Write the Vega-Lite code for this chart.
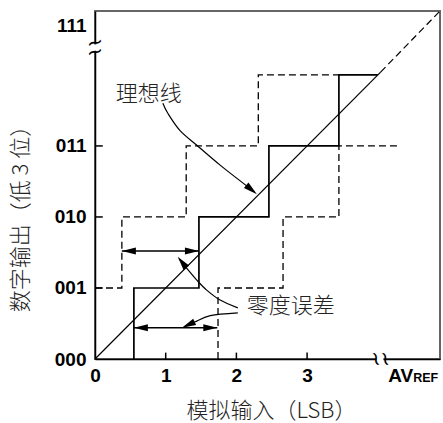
{
  "$schema": "https://vega.github.io/schema/vega-lite/v6.json",
  "width": 345,
  "height": 348,
  "autosize": "none",
  "padding": {"left": 95, "top": 11, "right": 3, "bottom": 64},
  "config": {
    "view": {"stroke": "#666", "strokeWidth": 2},
    "background": "white"
  },
  "datasets": {
    "actual": [
      {"order": 1, "x": 0.55, "y": 0},
      {"order": 2, "x": 0.55, "y": 1},
      {"order": 3, "x": 1.47, "y": 1},
      {"order": 4, "x": 1.47, "y": 2},
      {"order": 5, "x": 2.46, "y": 2},
      {"order": 6, "x": 2.46, "y": 3},
      {"order": 7, "x": 3.45, "y": 3},
      {"order": 8, "x": 3.45, "y": 4},
      {"order": 9, "x": 4.0, "y": 4}
    ],
    "bounds": [
      {"series": "left", "order": 1, "x": 0, "y": 1},
      {"series": "left", "order": 2, "x": 0.38, "y": 1},
      {"series": "left", "order": 3, "x": 0.38, "y": 2},
      {"series": "left", "order": 4, "x": 1.29, "y": 2},
      {"series": "left", "order": 5, "x": 1.29, "y": 3},
      {"series": "left", "order": 6, "x": 2.31, "y": 3},
      {"series": "left", "order": 7, "x": 2.31, "y": 4},
      {"series": "left", "order": 8, "x": 3.45, "y": 4},
      {"series": "right", "order": 1, "x": 1.74, "y": 0},
      {"series": "right", "order": 2, "x": 1.74, "y": 1},
      {"series": "right", "order": 3, "x": 2.66, "y": 1},
      {"series": "right", "order": 4, "x": 2.66, "y": 2},
      {"series": "right", "order": 5, "x": 3.45, "y": 2},
      {"series": "right", "order": 6, "x": 3.45, "y": 3},
      {"series": "right", "order": 7, "x": 4.29, "y": 3}
    ],
    "idealSolid": [
      {"x": 0, "y": 0, "x2": 4.04, "y2": 4.04}
    ],
    "idealDashed": [
      {"x": 4.04, "y": 4.04, "x2": 4.88, "y2": 4.9}
    ],
    "shafts": [
      {"x": 0.38, "y": 1.52, "x2": 1.47, "y2": 1.52},
      {"x": 0.55, "y": 0.44, "x2": 1.73, "y2": 0.44}
    ],
    "ticks": [
      {"x": 0, "y": 1, "x2": 0.11, "y2": 1},
      {"x": 0, "y": 2, "x2": 0.11, "y2": 2},
      {"x": 0, "y": 3, "x2": 0.11, "y2": 3},
      {"x": 1, "y": 0, "x2": 1, "y2": 0.09},
      {"x": 2, "y": 0, "x2": 2, "y2": 0.09},
      {"x": 3, "y": 0, "x2": 3, "y2": 0.09}
    ],
    "gaps": [
      {"x": 0, "y": 4.34, "x2": 0, "y2": 4.43},
      {"x": 3.98, "y": 0, "x2": 4.08, "y2": 0}
    ],
    "heads": [
      {"x": 0.38, "y": 1.52, "angle": 180},
      {"x": 1.47, "y": 1.52, "angle": 0},
      {"x": 0.55, "y": 0.44, "angle": 180},
      {"x": 1.73, "y": 0.44, "angle": 0},
      {"x": 2.29, "y": 2.32, "angle": 40},
      {"x": 1.17, "y": 1.44, "angle": 232},
      {"x": 1.23, "y": 0.44, "angle": 155}
    ],
    "pointers": [
      {"series": "ideal", "order": 1, "x": 0.96, "y": 3.6},
      {"series": "ideal", "order": 2, "x": 1.03, "y": 3.46},
      {"series": "ideal", "order": 3, "x": 1.2, "y": 3.22},
      {"series": "ideal", "order": 4, "x": 1.44, "y": 3.01},
      {"series": "ideal", "order": 5, "x": 1.77, "y": 2.73},
      {"series": "ideal", "order": 6, "x": 2.09, "y": 2.48},
      {"series": "ideal", "order": 7, "x": 2.26, "y": 2.35},
      {"series": "zeroA", "order": 1, "x": 2.02, "y": 0.72},
      {"series": "zeroA", "order": 2, "x": 1.77, "y": 0.83},
      {"series": "zeroA", "order": 3, "x": 1.58, "y": 0.97},
      {"series": "zeroA", "order": 4, "x": 1.44, "y": 1.11},
      {"series": "zeroA", "order": 5, "x": 1.32, "y": 1.25},
      {"series": "zeroA", "order": 6, "x": 1.19, "y": 1.41},
      {"series": "zeroB", "order": 1, "x": 2.02, "y": 0.65},
      {"series": "zeroB", "order": 2, "x": 1.63, "y": 0.61},
      {"series": "zeroB", "order": 3, "x": 1.41, "y": 0.52},
      {"series": "zeroB", "order": 4, "x": 1.26, "y": 0.45}
    ],
    "tildesY": [
      {"x": 0, "y": 4.45},
      {"x": 0, "y": 4.32}
    ],
    "tildesX": [
      {"x": 3.97, "y": 0},
      {"x": 4.1, "y": 0}
    ],
    "notes": [
      {"x": 0.76, "y": 3.73, "text": "理想线"},
      {"x": 2.77, "y": 0.75, "text": "零度误差"}
    ],
    "av": [
      {"x": 4.5, "y": -0.32, "text": "AV"}
    ],
    "ref": [
      {"x": 4.5, "y": -0.32, "text": "REF"}
    ]
  },
  "encoding": {
    "x": {
      "field": "x",
      "type": "quantitative",
      "scale": {"domain": [0, 4.88], "nice": false, "zero": false},
      "axis": {
        "values": [0, 1, 2, 3],
        "format": "d",
        "grid": false,
        "ticks": false,
        "tickSize": 0,
        "labelFlush": false,
        "labelFont": "Liberation Sans",
        "labelFontWeight": "bold",
        "labelFontSize": 19,
        "labelColor": "black",
        "labelPadding": 7,
        "domainColor": "black",
        "domainWidth": 1.5,
        "title": "模拟输入（LSB）",
        "titleFont": "Noto Sans CJK SC",
        "titleFontSize": 22,
        "titleFontWeight": 300,
        "titleColor": "#222",
        "titleX": 176,
        "titleY": 51,
        "titleAlign": "center",
        "titleBaseline": "middle",
        "titleAnchor": null
      }
    },
    "y": {
      "field": "y",
      "type": "quantitative",
      "scale": {"domain": [0, 4.9], "nice": false, "zero": false},
      "axis": {
        "values": [0, 1, 2, 3, 4.7],
        "labelExpr": "datum.value > 4 ? '111' : datum.value > 2.5 ? '011' : datum.value > 1.5 ? '010' : datum.value > 0.5 ? '001' : '000'",
        "grid": false,
        "ticks": false,
        "tickSize": 0,
        "labelFont": "Liberation Sans",
        "labelFontWeight": "bold",
        "labelFontSize": 19,
        "labelColor": "black",
        "labelPadding": 9,
        "labelBaseline": "middle",
        "domainColor": "black",
        "domainWidth": 1.5,
        "title": "数字输出（低 3 位）",
        "titleFont": "Noto Sans CJK SC",
        "titleFontSize": 22,
        "titleFontWeight": 300,
        "titleColor": "#222",
        "titleX": -75,
        "titleY": 202,
        "titleAngle": 270,
        "titleAlign": "center",
        "titleBaseline": "middle",
        "titleAnchor": null
      }
    }
  },
  "layer": [
    {
      "data": {"name": "bounds"},
      "mark": {"type": "line", "color": "black", "strokeWidth": 1.3, "strokeDash": [7, 4]},
      "encoding": {"detail": {"field": "series"}, "order": {"field": "order", "type": "quantitative"}}
    },
    {
      "data": {"name": "actual"},
      "mark": {"type": "line", "color": "black", "strokeWidth": 1.7},
      "encoding": {"order": {"field": "order", "type": "quantitative"}}
    },
    {
      "data": {"name": "idealSolid"},
      "mark": {"type": "rule", "color": "black", "strokeWidth": 1.2},
      "encoding": {"x2": {"field": "x2"}, "y2": {"field": "y2"}}
    },
    {
      "data": {"name": "idealDashed"},
      "mark": {"type": "rule", "color": "black", "strokeWidth": 1.2, "strokeDash": [7, 4]},
      "encoding": {"x2": {"field": "x2"}, "y2": {"field": "y2"}}
    },
    {
      "data": {"name": "shafts"},
      "mark": {"type": "rule", "color": "black", "strokeWidth": 1.6},
      "encoding": {"x2": {"field": "x2"}, "y2": {"field": "y2"}}
    },
    {
      "data": {"name": "ticks"},
      "mark": {"type": "rule", "color": "black", "strokeWidth": 1.5},
      "encoding": {"x2": {"field": "x2"}, "y2": {"field": "y2"}}
    },
    {
      "data": {"name": "gaps"},
      "mark": {"type": "rule", "color": "white", "strokeWidth": 5},
      "encoding": {"x2": {"field": "x2"}, "y2": {"field": "y2"}}
    },
    {
      "data": {"name": "pointers"},
      "mark": {"type": "line", "color": "black", "strokeWidth": 1.2, "interpolate": "cardinal"},
      "encoding": {"detail": {"field": "series"}, "order": {"field": "order", "type": "quantitative"}}
    },
    {
      "data": {"name": "heads"},
      "mark": {"type": "point", "shape": "M0,0 L-2,-0.5 L-2,0.5 Z", "filled": true, "color": "black", "size": 196, "opacity": 1, "strokeWidth": 0},
      "encoding": {"angle": {"field": "angle", "type": "quantitative", "scale": null}}
    },
    {
      "data": {"name": "tildesY"},
      "mark": {"type": "text", "text": "~", "font": "DejaVu Sans", "fontSize": 20, "angle": 345, "align": "center", "baseline": "middle", "color": "black"}
    },
    {
      "data": {"name": "tildesX"},
      "mark": {"type": "text", "text": "~", "font": "DejaVu Sans", "fontSize": 20, "angle": 75, "align": "center", "baseline": "middle", "color": "black"}
    },
    {
      "data": {"name": "notes"},
      "mark": {"type": "text", "font": "Noto Sans CJK SC", "fontWeight": 300, "fontSize": 22, "align": "center", "baseline": "middle", "color": "#222"},
      "encoding": {"text": {"field": "text"}}
    },
    {
      "data": {"name": "av"},
      "mark": {"type": "text", "font": "Liberation Sans", "fontWeight": "bold", "fontSize": 19, "align": "right", "baseline": "alphabetic", "color": "black"},
      "encoding": {"text": {"field": "text"}}
    },
    {
      "data": {"name": "ref"},
      "mark": {"type": "text", "font": "Liberation Sans", "fontWeight": "bold", "fontSize": 12.5, "align": "left", "baseline": "alphabetic", "color": "black"},
      "encoding": {"text": {"field": "text"}}
    }
  ]
}
